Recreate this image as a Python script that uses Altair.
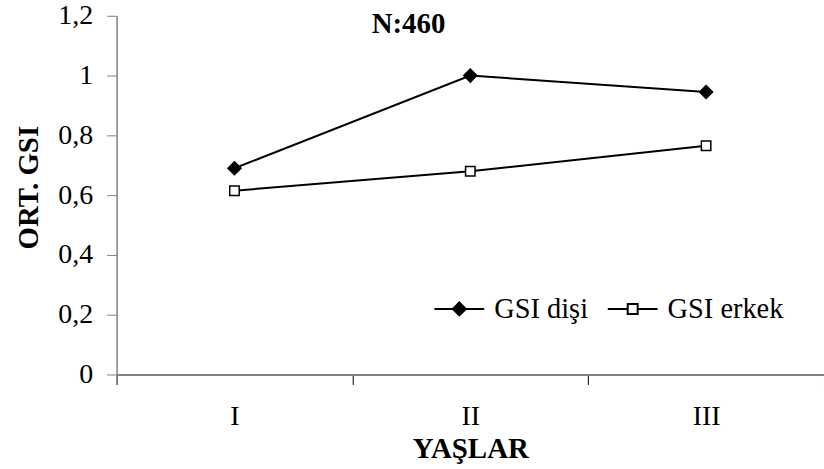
import altair as alt
import pandas as pd

# ---- data ----
ages = ["I", "II", "III"]
series_names = ["GSI dişi", "GSI erkek"]
gsi_disi = [0.69, 1.0, 0.945]
gsi_erkek = [0.615, 0.68, 0.765]
y_ticks = [0, 0.2, 0.4, 0.6, 0.8, 1.0, 1.2]

rows = []
for name, vals in zip(series_names, [gsi_disi, gsi_erkek]):
    for a, v in zip(ages, vals):
        rows.append({"yas": a, "gsi": v, "seri": name})
df = pd.DataFrame(rows)

FONT = "Liberation Serif"
GRAY = "#808080"

x_enc = alt.X(
    "yas:N",
    sort=ages,
    bandPosition=0.5,
    scale=alt.Scale(type="band", domain=ages, paddingInner=0, paddingOuter=0),
    axis=alt.Axis(
        title="YAŞLAR",
        labelAngle=0,
        tickBand="extent",
        domainColor=GRAY,
        domainWidth=2,
        tickColor="black",
        tickWidth=1,
        tickSize=10,
        labelFont=FONT,
        labelFontSize=28,
        labelColor="black",
        labelPadding=18,
        titleFont=FONT,
        titleFontSize=29,
        titleFontWeight="bold",
        titleColor="black",
        titleBaseline="alphabetic",
        titleY=83,
        grid=False,
    ),
)

y_enc = alt.Y(
    "gsi:Q",
    scale=alt.Scale(domain=[0, 1.2], nice=False, zero=True),
    axis=alt.Axis(
        title="ORT. GSI",
        values=y_ticks,
        labelExpr="replace(format(datum.value, '~g'), '.', ',')",
        domainColor=GRAY,
        domainWidth=1.5,
        tickColor=GRAY,
        tickSize=10,
        labelFont=FONT,
        labelFontSize=28,
        labelColor="black",
        labelPadding=14,
        titleFont=FONT,
        titleFontSize=29,
        titleFontWeight="bold",
        titleColor="black",
        titleAngle=270,
        titleAlign="center",
        titleBaseline="alphabetic",
        titleX=-79,
        titleY=172,
        grid=False,
    ),
)

lines = alt.Chart(df).mark_line(color="black", strokeWidth=2).encode(
    x=x_enc, y=y_enc, detail="seri:N"
)

points = alt.Chart(df).mark_point(
    filled=True, stroke="black", strokeWidth=1.5, opacity=1
).encode(
    x=x_enc,
    y=y_enc,
    shape=alt.Shape("seri:N", scale=alt.Scale(domain=series_names, range=["diamond", "square"]), legend=None),
    fill=alt.Fill("seri:N", scale=alt.Scale(domain=series_names, range=["black", "white"]), legend=None),
    size=alt.Size("seri:N", scale=alt.Scale(domain=series_names, range=[170, 90]), legend=None),
)

diamond_path = "M-1,0H1M0,-0.26L0.26,0L0,0.26L-0.26,0Z"
square_path = "M-1,0H-0.2M0.2,0H1M-0.2,-0.2H0.2V0.2H-0.2Z"

leg = alt.Legend(
    title=None,
    orient="none",
    legendX=318,
    legendY=268,
    direction="horizontal",
    labelFont=FONT,
    labelFontSize=28.5,
    labelColor="black",
    labelOffset=9,
    columnPadding=15,
    padding=0,
    symbolSize=2500,
    symbolOpacity=1,
    symbolStrokeColor="black",
    symbolStrokeWidth=2,
)

# legend-only layer: no marks drawn (filtered out); its legend comes from the explicit scale domains
legend_layer = alt.Chart(df).transform_filter("false").mark_point(
    filled=True, strokeWidth=2
).encode(
    x=x_enc,
    y=y_enc,
    shape=alt.Shape("seri:N", scale=alt.Scale(domain=series_names, range=[diamond_path, square_path]), legend=leg),
    fill=alt.Fill("seri:N", scale=alt.Scale(domain=series_names, range=["black", "white"]), legend=leg),
    stroke=alt.Stroke("seri:N", scale=alt.Scale(domain=series_names, range=["black", "black"]), legend=leg),
)

chart = (
    alt.layer(lines, points, legend_layer)
    .resolve_scale(shape="independent", fill="independent", size="independent", stroke="independent")
    .properties(
        width=710,
        height=360,
        autosize=alt.AutoSizeParams(type="none"),
        padding={"left": 117, "top": 15, "right": 0, "bottom": 94},
        background="white",
        title=alt.TitleParams(
            "N:460",
            font=FONT,
            fontSize=29,
            fontWeight="bold",
            color="black",
            anchor="start",
            frame="group",
            align="left",
            baseline="alphabetic",
            offset=-60,
            dx=256,
        ),
    )
    .configure_view(stroke=None)
)

chart.save("out.html", embed_options={"renderer": "svg", "actions": False})
